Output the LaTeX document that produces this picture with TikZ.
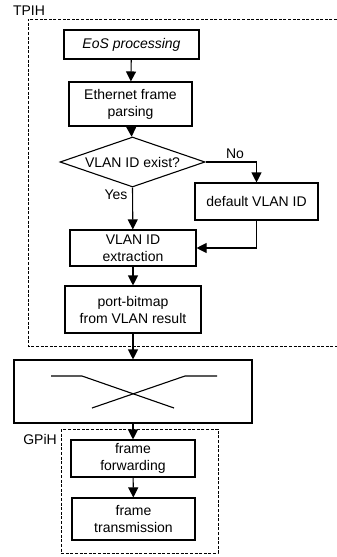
\documentclass[tikz,border=0pt]{standalone}
\usepackage{fontspec}
\setmainfont{Liberation Sans}
\usetikzlibrary{arrows.meta,shapes.geometric}

\begin{document}
\begin{tikzpicture}
[x=1pt,y=-1pt,%
  every node/.style={inner sep=0pt,align=center,font=\fontsize{14}{17}\selectfont},%
  box/.style={draw,line width=1.1pt},%
  decide/.style={draw,line width=1.1pt,diamond,aspect=2.9},%
  flow/.style={line width=1.1pt,-{Triangle[length=10pt,width=10pt]}},%
  area/.style={line width=1pt,dash pattern=on 3pt off 1.6pt}]
\useasboundingbox (0,0) rectangle (337,557);
\node (tpih) at (29,11) {TPIH};
\draw[area] (337,19) -- (28,19) -- (28,346) -- (337,346);
\node[box,minimum width=135pt,minimum height=29pt] (eos) at (131.5,44.5) {\itshape EoS processing};
\node[box,minimum width=123pt,minimum height=44pt] (parse) at (130.5,104) {Ethernet frame\\parsing};
\node[decide,minimum width=145pt,minimum height=50pt] (exist) at (132.5,162) {VLAN ID exist?};
\node[box,minimum width=123pt,minimum height=37pt] (dflt) at (256.5,201.5) {default VLAN ID};
\node[box,minimum width=126pt,minimum height=36pt] (extr) at (133,248) {VLAN ID\\extraction};
\node[box,minimum width=136pt,minimum height=47pt] (bitmap) at (133,309.5) {port-bitmap\\from VLAN result};
\node[box,minimum width=238pt,minimum height=63pt] (switch) at (133,391.5) {};
\node (gpih) at (40,439) {GPiH};
\draw[area] (61,429) rectangle (218,553);
\node[box,minimum width=124pt,minimum height=37pt] (fwd) at (133,458.5) {frame\\forwarding};
\node[box,minimum width=123pt,minimum height=42pt] (tx) at (133.5,519) {frame\\transmission};
\node (no) at (235,154) {No};
\node (yes) at (116,195) {Yes};
\draw[flow] (eos) -- (parse);
\draw[flow] (parse) -- (exist);
\draw[flow] (exist.east) -| (dflt.north);
\draw[flow] (exist.south) -- (extr);
\draw[flow] (dflt.south) |- (extr.east);
\draw[flow] (extr) -- (bitmap);
\draw[flow] (bitmap) -- (switch);
\draw[flow] (switch) -- (fwd);
\draw[flow] (fwd) -- (tx);
\draw[line width=1.1pt] (51,376) -- (82,376) -- (174,408);
\draw[line width=1.1pt] (217,376) -- (185,376) -- (92,408);
\end{tikzpicture}
\end{document}
